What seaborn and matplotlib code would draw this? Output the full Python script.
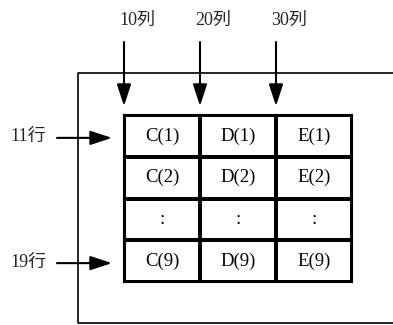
import numpy as np
import pandas as pd
import seaborn as sns
import matplotlib.pyplot as plt

# table contents
col_names = ["C", "D", "E"]
row_tags = ["(1)", "(2)", ":", "(9)"]
col_labels = ["10列", "20列", "30列"]
row_labels = ["11行", "19行"]

cells = [[c + r if r != ":" else ":" for c in col_names] for r in row_tags]
df = pd.DataFrame(np.zeros((len(row_tags), len(col_names))), index=row_tags, columns=col_names)

sns.set_theme(style="white")
plt.rcParams['font.family'] = ['Liberation Serif', 'Noto Sans CJK JP', 'DejaVu Sans']

W, H = 393, 325
fig = plt.figure(figsize=(W / 100, H / 100), dpi=100)
ax = fig.add_axes([0, 0, 1, 1])
ax.set_xlim(0, W)
ax.set_ylim(H, 0)
ax.axis("off")

# outer frame (open to the right)
ax.plot([400, 78, 78, 400], [73, 73, 323, 323], color="black", lw=1.2)

# table via heatmap
tx0, tx1, ty0, ty1 = 124, 352, 115, 282
tab = fig.add_axes([tx0 / W, 1 - ty1 / H, (tx1 - tx0) / W, (ty1 - ty0) / H])
sns.heatmap(df, ax=tab, cmap=["white"], cbar=False, annot=np.array(cells), fmt="",
            linewidths=1.5, linecolor="black",
            annot_kws={"color": "black", "fontsize": 13.5})
tab.set_xticks([])
tab.set_yticks([])
tab.set_xlabel("")
tab.set_ylabel("")
for s in tab.spines.values():
    s.set_visible(True)
    s.set_linewidth(1.5)
    s.set_color("black")

arrow = dict(arrowstyle="-|>,head_length=0.55,head_width=0.18", color="black",
             lw=1.5, mutation_scale=24, shrinkA=0, shrinkB=0)

# column arrows
col_x = np.linspace(tx0, tx1, len(col_names) + 1)[:-1]
for x, lab in zip(col_x, col_labels):
    ax.annotate("", xy=(x, 106), xytext=(x, 42), arrowprops=arrow)
    ax.text(x + 13, 20, lab, ha="center", va="center", fontsize=13)

# row arrows
row_h = (ty1 - ty0) / len(row_tags)
for i, lab in zip([0, len(row_tags) - 1], row_labels):
    y = ty0 + row_h * (i + 0.5) + 2
    ax.annotate("", xy=(112, y), xytext=(57, y), arrowprops=arrow)
    ax.text(28, y - 1, lab, ha="center", va="center", fontsize=13)

fig.savefig("out.png", dpi=100)
